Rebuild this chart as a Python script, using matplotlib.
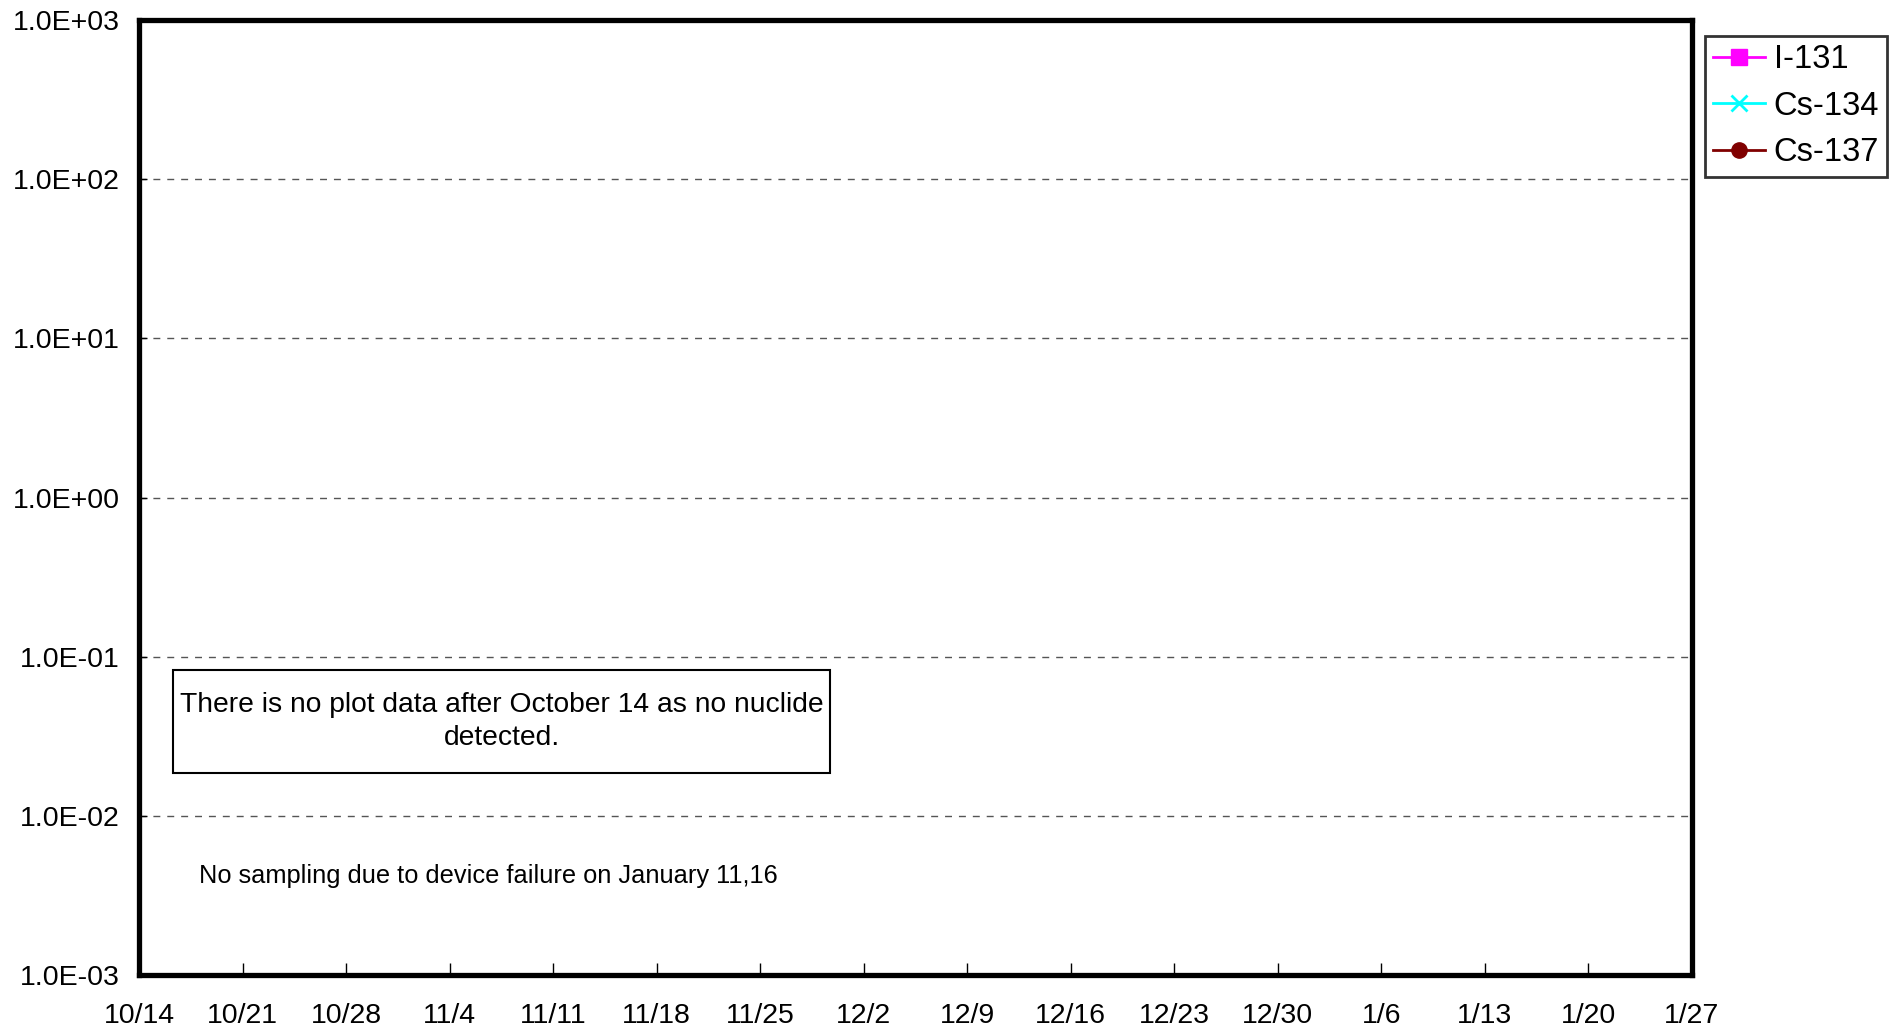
import numpy as np
import matplotlib
matplotlib.use('Agg')
import matplotlib.pyplot as plt
import matplotlib.dates as mdates
from matplotlib.patches import Rectangle
from matplotlib.ticker import FuncFormatter, LogLocator, NullLocator
from datetime import datetime, timedelta

plt.rcParams['font.family'] = ['Liberation Sans', 'DejaVu Sans']

# no nuclide detected in this period, so the series are empty
nuclides = ['I-131', 'Cs-134', 'Cs-137']
i131_dates, i131_values = [], []
cs134_dates, cs134_values = [], []
cs137_dates, cs137_values = [], []

x_start = datetime(2013, 10, 14)
x_end = datetime(2014, 1, 27)
tick_dates = [x_start + timedelta(days=7 * k) for k in range(16)]
tick_labels = ['10/14', '10/21', '10/28', '11/4', '11/11', '11/18', '11/25', '12/2',
               '12/9', '12/16', '12/23', '12/30', '1/6', '1/13', '1/20', '1/27']
y_min, y_max = 1e-3, 1e3

note_box = 'There is no plot data after October 14 as no nuclide\ndetected.'
note_text = 'No sampling due to device failure on January 11,16'

W, H = 1899, 1036
fig = plt.figure(figsize=(W / 100, H / 100), dpi=100)
ax = fig.add_axes([139 / W, 1 - 975 / H, (1692 - 139) / W, (975 - 20) / H])

ax.plot(i131_dates, i131_values, color='magenta', marker='s', ms=11, lw=2, label=nuclides[0])
ax.plot(cs134_dates, cs134_values, color='cyan', marker='x', ms=12, mew=2, lw=2, label=nuclides[1])
ax.plot(cs137_dates, cs137_values, color='#800000', marker='o', ms=11, lw=2, label=nuclides[2])

ax.set_yscale('log')
ax.set_ylim(y_min, y_max)
ax.set_xlim(mdates.date2num(x_start), mdates.date2num(x_end))
ax.yaxis.set_major_locator(LogLocator(base=10, numticks=10))
ax.yaxis.set_minor_locator(NullLocator())
ax.yaxis.set_major_formatter(FuncFormatter(lambda v, p: '%.1E' % v))
ax.set_xticks([mdates.date2num(d) for d in tick_dates])
ax.set_xticklabels(tick_labels)

ax.tick_params(axis='x', direction='in', length=9, width=1, labelsize=20.5, pad=20)
ax.tick_params(axis='y', direction='in', length=6, width=1, labelsize=20.5, pad=14)
for s in ax.spines.values():
    s.set_linewidth(3.8)

ax.grid(axis='y', which='major', linestyle=(0, (5, 5)), color='#555555', linewidth=1)

# annotation box
ax.add_patch(Rectangle((0.0219, 0.2115), 0.445 - 0.0219, 0.3194 - 0.2115, transform=ax.transAxes,
                       facecolor='white', edgecolor='black', linewidth=1.5, zorder=3))
ax.text(0.2335, 0.2655, note_box, transform=ax.transAxes, ha='center', va='center',
        fontsize=20.3, linespacing=1.38, zorder=4)
ax.text(0.225, 0.104, note_text, transform=ax.transAxes, ha='center', va='center', fontsize=18.3)

leg = fig.legend(loc='upper left', bbox_to_anchor=(1705 / W, 1 - 36 / H), fontsize=23.5,
                 frameon=True, fancybox=False, edgecolor='black', handlelength=1.6,
                 handletextpad=0.25, borderpad=0.25, labelspacing=0.48, borderaxespad=0)
leg.get_frame().set_linewidth(2)

fig.savefig('out.png', dpi=100)
